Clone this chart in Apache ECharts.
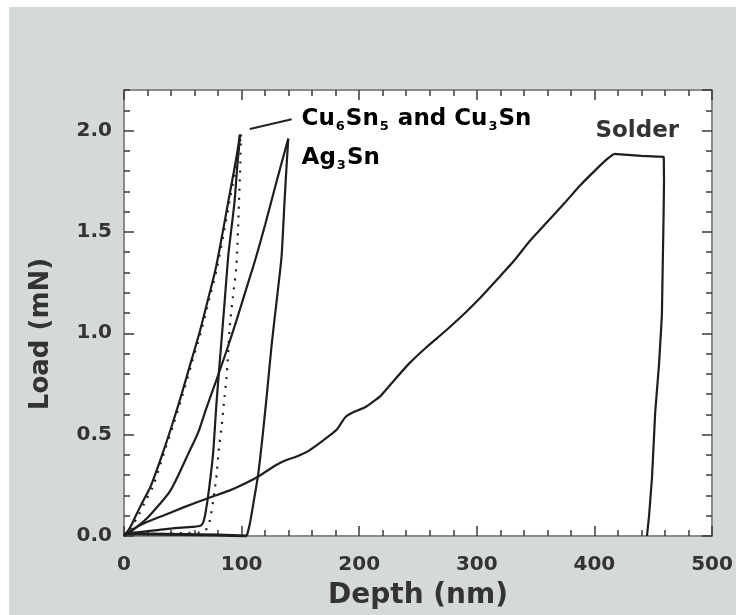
<!DOCTYPE html>
<html>
<head>
<meta charset="utf-8">
<script src="https://cdn.jsdelivr.net/npm/echarts@6/dist/echarts.min.js"></script>
<style>
html,body{margin:0;padding:0;background:#ffffff;}
#chart{width:736px;height:615px;}
</style>
</head>
<body>
<div id="chart"></div>
<script>
// ---- data (depth in nm, load in mN) ----
// Cu6Sn5 (solid)
const cuSolidLoadingDepth = [0, 5, 10, 16, 23, 33, 41, 49, 57, 65, 72, 78, 84, 89, 93.5, 96.5, 98.6];
const cuSolidLoadingLoad  = [0, 0.04, 0.10, 0.17, 0.25, 0.41, 0.55, 0.70, 0.86, 1.02, 1.18, 1.32, 1.50, 1.66, 1.80, 1.90, 1.98];
const cuSolidUnloadDepth = [98.6, 97.5, 96, 94, 91, 88.6, 85.5, 82, 78.7, 75.8, 72.5, 69.5, 67.5, 65, 58, 45, 30, 15, 3];
const cuSolidUnloadLoad  = [1.98, 1.90, 1.80, 1.65, 1.50, 1.38, 1.15, 0.90, 0.66, 0.41, 0.24, 0.12, 0.07, 0.05, 0.045, 0.04, 0.03, 0.02, 0.015];
// Cu3Sn (dotted)
const cuDottedLoadingDepth = [0, 6, 12, 18, 25, 34, 42, 50, 58, 66, 73, 79, 85, 90, 94.5, 97.5, 99.5];
const cuDottedLoadingLoad  = [0, 0.04, 0.10, 0.17, 0.25, 0.41, 0.55, 0.70, 0.86, 1.02, 1.18, 1.32, 1.50, 1.66, 1.80, 1.90, 1.98];
const cuDottedUnloadDepth = [99.5, 99, 97.5, 95.7, 93, 90, 87.2, 85, 83, 80.5, 78.7, 76, 73.5, 71.6, 68, 50, 30, 10, 0];
const cuDottedUnloadLoad  = [1.98, 1.85, 1.60, 1.34, 1.20, 1.04, 0.78, 0.66, 0.54, 0.42, 0.30, 0.18, 0.09, 0.05, 0.02, 0.015, 0.01, 0.01, 0.01];
// Ag3Sn
const agLoadingDepth = [0, 10, 20, 30, 39, 47, 55, 63, 70, 78, 87, 96, 104, 112, 120, 128, 134, 139.7];
const agLoadingLoad  = [0, 0.04, 0.09, 0.155, 0.22, 0.31, 0.41, 0.51, 0.63, 0.76, 0.91, 1.07, 1.22, 1.37, 1.535, 1.71, 1.84, 1.96];
const agUnloadDepth = [139.7, 138.5, 136.5, 134, 131, 128, 125.5, 121.5, 118, 114, 110, 107, 104.5];
const agUnloadLoad  = [1.96, 1.85, 1.65, 1.38, 1.22, 1.07, 0.94, 0.70, 0.50, 0.30, 0.16, 0.06, 0.0];
const agTailDepth = [104.5, 80, 50, 20, 0];
const agTailLoad  = [0.0, 0.005, 0.008, 0.01, 0.01];
// Solder
const solderLoadingDepth = [0, 8, 18, 33, 50, 73, 90, 105, 116, 128, 136, 148, 157, 168, 181, 188, 195, 205, 218, 230,
  243, 256, 266, 275, 290, 303, 318, 332, 345, 360, 375, 388, 400, 410, 416.5];
const solderLoadingLoad = [0, 0.035, 0.065, 0.10, 0.14, 0.19, 0.225, 0.265, 0.30, 0.345, 0.37, 0.395, 0.42, 0.465, 0.525, 0.585, 0.61, 0.635, 0.69, 0.77,
  0.854, 0.925, 0.975, 1.02, 1.10, 1.175, 1.27, 1.36, 1.455, 1.55, 1.645, 1.73, 1.80, 1.855, 1.885];
const solderUnloadDepth = [416.5, 440, 459, 459.2, 458.8, 458, 457.4, 455, 451.7, 449, 446.5, 444.7];
const solderUnloadLoad  = [1.885, 1.875, 1.87, 1.75, 1.57, 1.30, 1.09, 0.85, 0.61, 0.29, 0.10, 0.0];

// axis settings
const xMin = 0, xMax = 500, xStep = 100;
const yMin = 0, yMax = 2.2, yStep = 0.5, yMinorStep = 0.1;
const xTitle = 'Depth (nm)';
const yTitle = 'Load (mN)';

// annotation anchors (data coordinates)
const annoDepth = [151, 151, 436.5];
const annoLoad = [2.058, 1.865, 2.0];
const leaderDepth = [107, 142.6];
const leaderLoad = [2.008, 2.056];

function zip(a, b) { return a.map((v, i) => [v, b[i]]); }

const chart = echarts.init(document.getElementById('chart'), null, {renderer: 'canvas'});
const FONT = 'DejaVu Sans';
const TXT = '#333333';
const tickCol = '#3a3a3a';
const frameCol = '#8a8a8a';

function xAx(pos, labels) {
  return {
    type: 'value', position: pos, min: xMin, max: xMax, interval: xStep,
    axisLine: {show: true, onZero: false, lineStyle: {color: frameCol, width: 2}},
    axisTick: {show: true, inside: true, length: 10, lineStyle: {color: tickCol, width: 1.5}},
    minorTick: {show: true, splitNumber: 5, length: 6, lineStyle: {color: tickCol, width: 1.5}},
    axisLabel: {show: labels, margin: 19, fontFamily: FONT, fontWeight: 'bold', fontSize: 20, color: TXT},
    splitLine: {show: false},
    name: labels ? xTitle : '', nameLocation: 'middle', nameGap: 46,
    nameTextStyle: {fontFamily: FONT, fontWeight: 'bold', fontSize: 28, color: TXT}
  };
}
function yAx(pos, major, labels) {
  return {
    type: 'value', position: pos, min: yMin, max: yMax, interval: major ? yStep : yMinorStep,
    axisLine: {show: major, onZero: false, lineStyle: {color: frameCol, width: 2}},
    axisTick: {show: true, inside: true, length: major ? 10 : 6, lineStyle: {color: tickCol, width: 1.5}},
    axisLabel: {show: labels, showMaxLabel: false, margin: 12, fontFamily: FONT, fontWeight: 'bold', fontSize: 20, color: TXT,
      formatter: v => v.toFixed(1)},
    splitLine: {show: false},
    name: labels ? yTitle : '', nameLocation: 'middle', nameGap: 70,
    nameTextStyle: {fontFamily: FONT, fontWeight: 'bold', fontSize: 26, color: TXT, padding: [0, 42, 0, 0]}
  };
}

const solid = {color: '#1e1e1e', width: 2.2};
const dotted = {color: '#1e1e1e', width: 2.2, type: [2, 7]};
function s(name, xs, ys, style, smooth) {
  return {name: name, type: 'line', data: zip(xs, ys), showSymbol: false, lineStyle: style,
    smooth: smooth || false, z: 3};
}
chart.setOption({
  backgroundColor: '#ffffff',
  animation: false,
  grid: {left: 124, right: 24, top: 90, bottom: 69, show: true, backgroundColor: '#ffffff', borderWidth: 0},
  xAxis: [xAx('bottom', true), xAx('top', false)],
  yAxis: [yAx('left', true, true), yAx('left', false, false), yAx('right', true, false), yAx('right', false, false)],
  series: [
    s('Cu6Sn5', cuSolidLoadingDepth, cuSolidLoadingLoad, solid, 0.3),
    s('Cu6Sn5', cuSolidUnloadDepth, cuSolidUnloadLoad, solid, 0.2),
    s('Cu3Sn', cuDottedLoadingDepth, cuDottedLoadingLoad, dotted, 0.3),
    s('Cu3Sn', cuDottedUnloadDepth, cuDottedUnloadLoad, dotted, 0.2),
    s('Ag3Sn', agLoadingDepth, agLoadingLoad, solid, 0.3),
    s('Ag3Sn', agUnloadDepth, agUnloadLoad, solid, 0.2),
    s('Ag3Sn', agTailDepth, agTailLoad, {color: '#1e1e1e', width: 3}, false),
    s('Solder', solderLoadingDepth, solderLoadingLoad, solid, 0.15),
    s('Solder', solderUnloadDepth, solderUnloadLoad, solid, false)
  ]
});

const p = (d, l) => chart.convertToPixel({xAxisIndex: 0, yAxisIndex: 0}, [d, l]);
const a0 = p(annoDepth[0], annoLoad[0]);
const a1 = p(annoDepth[1], annoLoad[1]);
const a2 = p(annoDepth[2], annoLoad[2]);
const l0 = p(leaderDepth[0], leaderLoad[0]);
const l1 = p(leaderDepth[1], leaderLoad[1]);
const rich = {
  n: {fontFamily: FONT, fontWeight: 'bold', fontSize: 23, color: TXT, lineHeight: 28, verticalAlign: 'middle'},
  s: {fontFamily: FONT, fontWeight: 'bold', fontSize: 13, color: TXT, lineHeight: 28, verticalAlign: 'bottom', padding: [11, 1, 0, 1]}
};
chart.setOption({
  graphic: [
    {type: 'rect', shape: {x: 9, y: 7, width: 736, height: 615}, style: {fill: '#d5d9d9'}, z: -100, silent: true},
    {type: 'line', shape: {x1: l0[0], y1: l0[1], x2: l1[0], y2: l1[1]}, style: {stroke: '#222', lineWidth: 2}, z: 10},
    {type: 'text', x: a0[0], y: a0[1], z: 10, style: {
      text: '{n|Cu}{s|6}{n|Sn}{s|5}{n| and Cu}{s|3}{n|Sn}', rich: rich, verticalAlign: 'middle', align: 'left'}},
    {type: 'text', x: a1[0], y: a1[1], z: 10, style: {
      text: '{n|Ag}{s|3}{n|Sn}', rich: rich, verticalAlign: 'middle', align: 'left'}},
    {type: 'text', x: a2[0], y: a2[1], z: 10, style: {
      text: 'Solder', fontFamily: FONT, fontWeight: 'bold', fontSize: 23, fill: TXT, verticalAlign: 'middle', align: 'center'}}
  ]
});
</script>
</body>
</html>
